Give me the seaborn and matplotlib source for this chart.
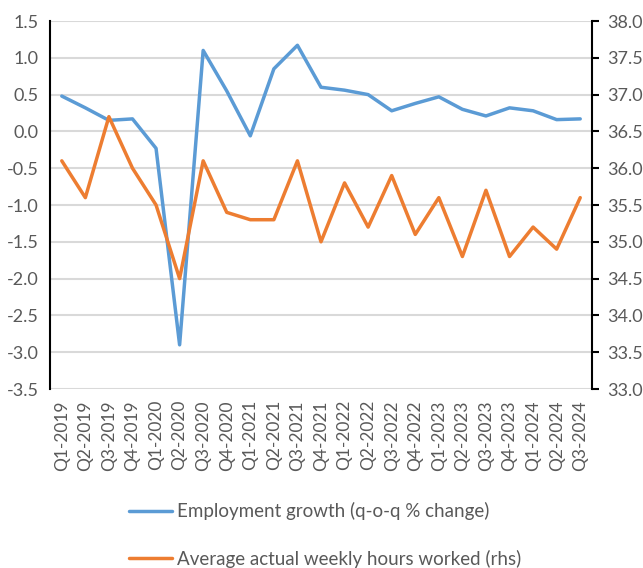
import matplotlib
matplotlib.use("Agg")
import matplotlib.pyplot as plt
import seaborn as sns
import pandas as pd

quarters = ["Q1-2019", "Q2-2019", "Q3-2019", "Q4-2019", "Q1-2020", "Q2-2020", "Q3-2020",
            "Q4-2020", "Q1-2021", "Q2-2021", "Q3-2021", "Q4-2021", "Q1-2022", "Q2-2022",
            "Q3-2022", "Q4-2022", "Q1-2023", "Q2-2023", "Q3-2023", "Q4-2023", "Q1-2024",
            "Q2-2024", "Q3-2024"]
employment_growth = [0.48, 0.32, 0.15, 0.17, -0.23, -2.9, 1.1, 0.55, -0.06, 0.85, 1.17, 0.6,
                     0.56, 0.5, 0.28, 0.38, 0.47, 0.3, 0.21, 0.32, 0.28, 0.16, 0.17]
weekly_hours = [36.1, 35.6, 36.7, 36.0, 35.5, 34.5, 36.1, 35.4, 35.3, 35.3, 36.1, 35.0,
                35.8, 35.2, 35.9, 35.1, 35.6, 34.8, 35.7, 34.8, 35.2, 34.9, 35.6]
left_ticks = [1.5, 1.0, 0.5, 0.0, -0.5, -1.0, -1.5, -2.0, -2.5, -3.0, -3.5]
right_ticks = [38.0, 37.5, 37.0, 36.5, 36.0, 35.5, 35.0, 34.5, 34.0, 33.5, 33.0]
label_emp = "Employment growth (q-o-q % change)"
label_hours = "Average actual weekly hours worked (rhs)"

sns.set_theme(style="white")
plt.rcParams['font.family'] = ['Lato', 'DejaVu Sans']

blue = "#5B9BD5"
orange = "#ED7D31"
grey = "#595959"

df = pd.DataFrame({"quarter": quarters, "emp": employment_growth, "hours": weekly_hours})

fig = plt.figure(figsize=(6.43, 5.68), dpi=100)
ax = fig.add_axes([50/643, 1 - 389/568, (592-50)/643, (389-21)/568])
ax2 = ax.twinx()

sns.lineplot(data=df, x="quarter", y="emp", ax=ax, color=blue, linewidth=2.5, sort=False, label=label_emp, legend=False)
sns.lineplot(data=df, x="quarter", y="hours", ax=ax2, color=orange, linewidth=2.5, sort=False, label=label_hours, legend=False)

ax.set_xlim(-0.5, len(quarters) - 0.5)
ax.set_ylim(-3.5, 1.5)
ax2.set_ylim(33.0, 38.0)
ax.set_yticks(left_ticks)
ax.set_yticklabels([f"{v:.1f}" for v in left_ticks])
ax2.set_yticks(right_ticks)
ax2.set_yticklabels([f"{v:.1f}" for v in right_ticks])
ax.set_xticks(range(len(quarters)))
ax.set_xticklabels(quarters, rotation=90)

ax.yaxis.grid(True, color="#D9D9D9", linewidth=1.5)
ax.set_axisbelow(True)
for a in (ax, ax2):
    for s in ("top", "bottom"):
        a.spines[s].set_visible(False)
    a.set_xlabel("")
    a.set_ylabel("")
ax.spines["left"].set_visible(True)
ax.spines["left"].set_color("black")
ax.spines["left"].set_linewidth(1.5)
ax.spines["right"].set_visible(False)
ax2.spines["left"].set_visible(False)
ax2.spines["right"].set_visible(True)
ax2.spines["right"].set_color("black")
ax2.spines["right"].set_linewidth(1.5)

ax.tick_params(axis="y", labelsize=13, labelcolor=grey, length=0, pad=8)
ax.tick_params(axis="x", labelsize=12.5, labelcolor=grey, length=0, pad=8)
ax2.tick_params(axis="y", labelsize=13, labelcolor=grey, direction="out", length=5, width=1.5, color="black", pad=6)

h1, l1 = ax.get_legend_handles_labels()
h2, l2 = ax2.get_legend_handles_labels()
leg = fig.legend(h1 + h2, l1 + l2, loc="center left", bbox_to_anchor=(112/643, 1 - 535/568), frameon=False,
                 fontsize=13.5, handlelength=2.3, handletextpad=0.27, labelspacing=1.55, labelcolor=grey)

fig.savefig("out.png", dpi=100)
